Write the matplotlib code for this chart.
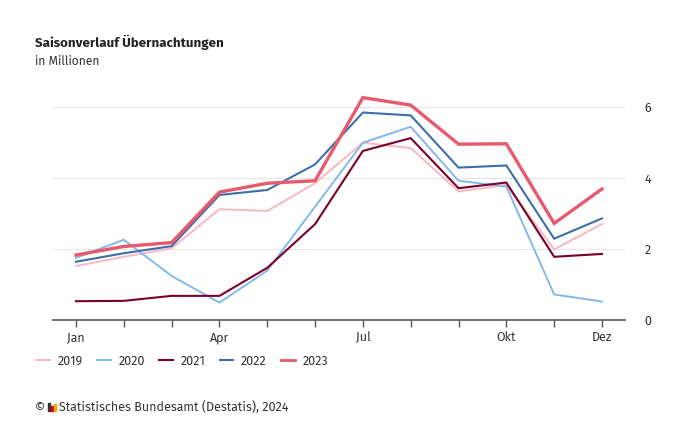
import matplotlib.pyplot as plt
from matplotlib.patches import Rectangle

months = ['Jan', 'Feb', 'Mär', 'Apr', 'Mai', 'Jun', 'Jul', 'Aug', 'Sep', 'Okt', 'Nov', 'Dez']
shown_labels = ['Jan', '', '', 'Apr', '', '', 'Jul', '', '', 'Okt', '', 'Dez']

v2019 = [1.52, 1.78, 2.02, 3.12, 3.07, 3.85, 4.99, 4.84, 3.62, 3.80, 1.99, 2.70]
v2020 = [1.75, 2.26, 1.24, 0.49, 1.39, 3.19, 4.99, 5.44, 3.92, 3.76, 0.72, 0.52]
v2021 = [0.53, 0.54, 0.68, 0.68, 1.47, 2.70, 4.76, 5.12, 3.71, 3.87, 1.78, 1.86]
v2022 = [1.64, 1.88, 2.08, 3.52, 3.66, 4.38, 5.84, 5.76, 4.29, 4.35, 2.29, 2.86]
v2023 = [1.83, 2.07, 2.18, 3.60, 3.85, 3.92, 6.26, 6.05, 4.95, 4.96, 2.72, 3.69]

series = [('2019', v2019, '#f7b8c2', 1.4),
          ('2020', v2020, '#82b8ee', 1.4),
          ('2021', v2021, '#7a0029', 1.5),
          ('2022', v2022, '#3b6fa9', 1.5),
          ('2023', v2023, '#e75a6e', 2.4)]

plt.rcParams['font.family'] = ['Fira Sans', 'Noto Sans', 'DejaVu Sans']

fig = plt.figure(figsize=(6.8, 4.25), dpi=100)
ax = fig.add_axes([0.078, 0.247, 0.841, 0.535])

x = list(range(len(months)))
for name, vals, col, lw in series:
    ax.plot(x, vals, color=col, lw=lw, label=name, solid_joinstyle='miter')

ax.set_xlim(-0.48, 11.48)
ax.set_ylim(0, 6.4)
ax.set_xticks(x)
ax.set_xticklabels(shown_labels, fontsize=9, color='#333333')
ax.set_yticks([0, 2, 4, 6])
ax.set_yticklabels(['0', '2', '4', '6'], fontsize=9, color='#333333')
ax.yaxis.tick_right()
ax.tick_params(axis='y', length=0, pad=14)
ax.tick_params(axis='x', length=5, width=1, color='#555555', pad=3)
for y in [2, 4, 6]:
    ax.axhline(y, color='#e6e6e6', lw=0.8, zorder=0)
for s in ['top', 'right', 'left']:
    ax.spines[s].set_visible(False)
ax.spines['bottom'].set_color('#555555')
ax.spines['bottom'].set_linewidth(1.2)

fig.text(35 / 680, 1 - 42 / 425, 'Saisonverlauf Übernachtungen', fontsize=9.6,
         fontweight='bold', color='#222222', va='center')
fig.text(35 / 680, 1 - 61 / 425, 'in Millionen', fontsize=8.7, color='#333333', va='center')

leg = fig.legend(loc='center left', bbox_to_anchor=(25 / 680, 1 - 361 / 425), ncol=5,
                 frameon=False, fontsize=9, handlelength=1.1, columnspacing=1.15,
                 handletextpad=0.6)
for t in leg.get_texts():
    t.set_color('#333333')
for h in leg.get_lines():
    h.set_linewidth(min(h.get_linewidth(), 2.0))

fig.text(35 / 680, 1 - 407 / 425, '©', fontsize=9, color='#333333', va='center')
# small logo bars
for i, (h, c) in enumerate([(0.018, '#333333'), (0.012, '#e2001a'), (0.016, '#f5a800')]):
    fig.add_artist(Rectangle(((48 + i * 3) / 680, 1 - 411 / 425), 2 / 680, h,
                             color=c, transform=fig.transFigure))
fig.text(59 / 680, 1 - 407 / 425, 'Statistisches Bundesamt (Destatis), 2024', fontsize=9,
         color='#333333', va='center')

fig.savefig('out.png', dpi=100)
